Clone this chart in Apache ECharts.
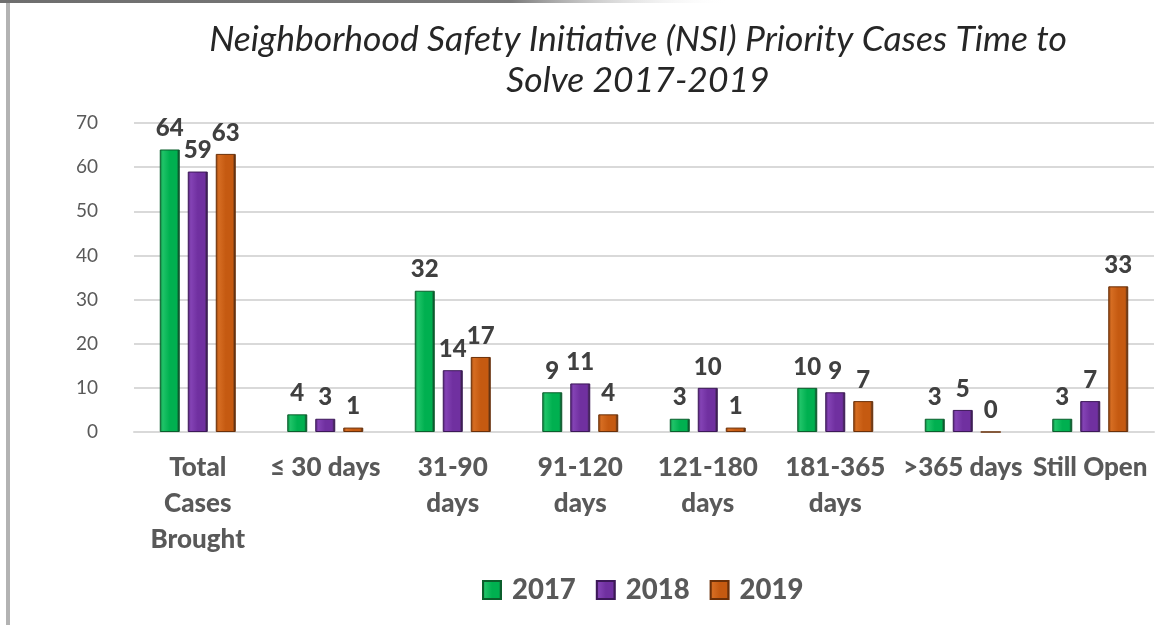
<!DOCTYPE html>
<html>
<head>
<meta charset="utf-8">
<script src="https://cdn.jsdelivr.net/npm/echarts@6/dist/echarts.min.js"></script>
<style>
  html, body { margin: 0; padding: 0; background: #fff; }
  #chart { width: 1174px; height: 625px; }
</style>
</head>
<body>
<div id="chart"></div>
<script>
var categories = ['Total\nCases\nBrought', '≤ 30 days', '31-90\ndays', '91-120\ndays', '121-180\ndays', '181-365\ndays', '>365 days', 'Still Open'];
var years = ['2017', '2018', '2019'];
var cases2017 = [64, 4, 32, 9, 3, 10, 3, 3];
var cases2018 = [59, 3, 14, 11, 10, 9, 5, 7];
var cases2019 = [63, 1, 17, 4, 1, 7, 0, 33];
var yTicks = [0, 10, 20, 30, 40, 50, 60, 70];

var chart = echarts.init(document.getElementById('chart'));

// bevel-ish look: dark edges, light middle
function bevel(edge, mid, light) {
    return new echarts.graphic.LinearGradient(0, 0, 1, 0, [
        {offset: 0, color: edge},
        {offset: 0.15, color: light},
        {offset: 0.5, color: mid},
        {offset: 0.85, color: mid},
        {offset: 1, color: '#1a1a1a'}
    ]);
}

var palette = [
    {edge: '#0b7a38', mid: '#00b050', light: '#1fc468', border: '#0b5e2c'},
    {edge: '#4d2070', mid: '#7030a0', light: '#8443b5', border: '#3c1858'},
    {edge: '#8a3e0b', mid: '#c55a11', light: '#d66d22', border: '#6b3008'}
];

function makeSeries(name, data, p) {
    return {
        name: name,
        type: 'bar',
        data: data,
        barWidth: 20,
        barGap: '40%',
        itemStyle: {
            color: bevel(p.edge, p.mid, p.light),
            borderColor: p.border,
            borderWidth: 1
        },
        label: {
            show: true,
            position: 'top',
            distance: 9,
            fontFamily: 'Lato',
            fontWeight: 900,
            fontSize: 24,
            color: '#404040'
        }
    };
}

chart.setOption({
    animation: false,
    backgroundColor: '#fff',
    title: {
        text: 'Neighborhood Safety Initiative (NSI) Priority Cases Time to\nSolve 2017-2019',
        left: 633,
        top: 14,
        textAlign: 'center',
        textStyle: {
            fontFamily: 'Lato',
            fontStyle: 'italic',
            fontWeight: 'normal',
            fontSize: 35.5,
            lineHeight: 41,
            color: '#262626'
        }
    },
    legend: {
        data: years,
        bottom: 16,
        left: 477,
        icon: 'rect',
        itemWidth: 18,
        itemHeight: 18,
        itemGap: 20,
        textStyle: {
            fontFamily: 'Lato',
            fontWeight: 900,
            fontSize: 27.5,
            color: '#595959',
            padding: [0, 0, 0, 6]
        }
    },
    grid: {left: 134, right: 20, top: 123, bottom: 193},
    xAxis: {
        type: 'category',
        data: categories,
        axisLine: {lineStyle: {color: '#d9d9d9', width: 2}},
        axisTick: {show: false},
        axisLabel: {
            interval: 0,
            margin: 18,
            fontFamily: 'Lato',
            fontWeight: 900,
            fontSize: 26,
            lineHeight: 36,
            color: '#595959'
        }
    },
    yAxis: {
        type: 'value',
        min: yTicks[0],
        max: yTicks[yTicks.length - 1],
        interval: 10,
        axisLine: {show: false},
        axisTick: {show: false},
        splitLine: {lineStyle: {color: '#d9d9d9', width: 2}},
        axisLabel: {
            margin: 36,
            fontFamily: 'Lato',
            fontSize: 19,
            color: '#595959'
        }
    },
    series: [
        makeSeries(years[0], cases2017, palette[0]),
        makeSeries(years[1], cases2018, palette[1]),
        makeSeries(years[2], cases2019, palette[2])
    ],
    graphic: [
        {type: 'rect', shape: {x: 6, y: 0, width: 4, height: 625}, style: {fill: '#b3b3b3'}},
        {type: 'rect', shape: {x: 0, y: 0, width: 730, height: 3},
            style: {fill: new echarts.graphic.LinearGradient(0, 0, 1, 0, [
                {offset: 0, color: '#6e6e6e'},
                {offset: 0.7, color: '#7a7a7a'},
                {offset: 1, color: 'rgba(255,255,255,0)'}
            ])}}
    ]
});
</script>
</body>
</html>
